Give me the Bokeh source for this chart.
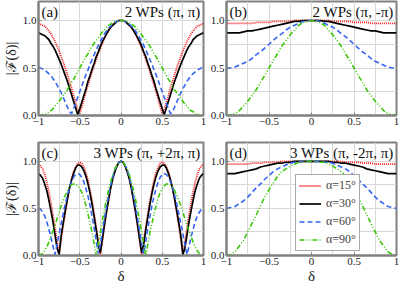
import numpy as np
from bokeh.plotting import figure
from bokeh.layouts import gridplot
from bokeh.models import Range1d, FixedTicker, Label, Legend, LegendItem
from bokeh.embed import file_html
from bokeh.resources import INLINE

# ---------------- data ----------------
DELTA_FINE = np.round(np.linspace(-1.0, 1.0, 81), 3)     # step 0.025
DELTA_COARSE = np.round(np.linspace(-1.0, 1.0, 41), 3)   # step 0.05

ALPHA_LABELS = ["α=15°", "α=30°", "α=60°", "α=90°"]
PANEL_TAGS = ["(a)", "(b)", "(c)", "(d)"]
PANEL_TITLES = ["2 WPs (π, π)", "2 WPs (π, -π)", "3 WPs (π, +2π, π)", "3 WPs (π, -2π, π)"]
X_TICKS = [-1, -0.5, 0, 0.5, 1]
X_TICK_LABELS = ["−1", "−0.5", "0", "0.5", "1"]
Y_TICKS = [0, 0.5, 1.0]
Y_TICK_LABELS = ["0.0", "0.5", "1.0"]
X_GRID = [-0.75, -0.5, -0.25, 0, 0.25, 0.5, 0.75]
Y_GRID = [0.25, 0.5, 0.75, 1.0]

# panel (a): 2 WPs (pi, pi)
A_15 = [0.97, 0.96, 0.95, 0.94, 0.92, 0.89, 0.86, 0.82, 0.78, 0.73, 0.68, 0.62, 0.56, 0.50, 0.43, 0.36, 0.29, 0.21, 0.14, 0.06,
        0.02, 0.09, 0.17, 0.25, 0.32, 0.39, 0.46, 0.53, 0.59, 0.66, 0.71, 0.76, 0.81, 0.86, 0.89, 0.93, 0.95, 0.97, 0.99, 1.00,
        1.00, 1.00, 0.99, 0.97, 0.95, 0.93, 0.89, 0.86, 0.81, 0.76, 0.71, 0.66, 0.59, 0.53, 0.46, 0.39, 0.32, 0.25, 0.17, 0.09,
        0.02, 0.06, 0.14, 0.21, 0.29, 0.36, 0.43, 0.50, 0.56, 0.62, 0.68, 0.73, 0.78, 0.82, 0.86, 0.89, 0.92, 0.94, 0.95, 0.96, 0.97]
A_30 = [0.87, 0.86, 0.85, 0.84, 0.82, 0.80, 0.76, 0.73, 0.69, 0.64, 0.59, 0.54, 0.48, 0.42, 0.36, 0.29, 0.22, 0.15, 0.08, 0.01,
        0.07, 0.14, 0.21, 0.28, 0.36, 0.42, 0.49, 0.55, 0.62, 0.67, 0.73, 0.78, 0.82, 0.86, 0.90, 0.93, 0.95, 0.97, 0.99, 1.00,
        1.00, 1.00, 0.99, 0.97, 0.95, 0.93, 0.90, 0.86, 0.82, 0.78, 0.73, 0.67, 0.62, 0.55, 0.49, 0.42, 0.36, 0.28, 0.21, 0.14,
        0.07, 0.01, 0.08, 0.15, 0.22, 0.29, 0.36, 0.42, 0.48, 0.54, 0.59, 0.64, 0.69, 0.73, 0.76, 0.80, 0.82, 0.84, 0.85, 0.86, 0.87]
A_60 = [0.50, 0.50, 0.49, 0.48, 0.46, 0.44, 0.42, 0.39, 0.36, 0.32, 0.28, 0.24, 0.19, 0.14, 0.09, 0.04, 0.02, 0.07, 0.13, 0.19,
        0.25, 0.31, 0.37, 0.43, 0.48, 0.54, 0.59, 0.64, 0.69, 0.74, 0.78, 0.82, 0.86, 0.89, 0.92, 0.94, 0.96, 0.98, 0.99, 1.00,
        1.00, 1.00, 0.99, 0.98, 0.96, 0.94, 0.92, 0.89, 0.86, 0.82, 0.78, 0.74, 0.69, 0.64, 0.59, 0.54, 0.48, 0.43, 0.37, 0.31,
        0.25, 0.19, 0.13, 0.07, 0.02, 0.04, 0.09, 0.14, 0.19, 0.24, 0.28, 0.32, 0.36, 0.39, 0.42, 0.44, 0.46, 0.48, 0.49, 0.50, 0.50]
A_90 = [0.00, 0.00, 0.01, 0.01, 0.02, 0.04, 0.05, 0.07, 0.10, 0.12, 0.15, 0.18, 0.21, 0.24, 0.27, 0.31, 0.35, 0.38, 0.42, 0.46,
        0.50, 0.54, 0.58, 0.62, 0.65, 0.69, 0.73, 0.76, 0.79, 0.82, 0.85, 0.88, 0.90, 0.93, 0.95, 0.96, 0.98, 0.99, 0.99, 1.00,
        1.00, 1.00, 0.99, 0.99, 0.98, 0.96, 0.95, 0.93, 0.90, 0.88, 0.85, 0.82, 0.79, 0.76, 0.73, 0.69, 0.65, 0.62, 0.58, 0.54,
        0.50, 0.46, 0.42, 0.38, 0.35, 0.31, 0.27, 0.24, 0.21, 0.18, 0.15, 0.12, 0.10, 0.07, 0.05, 0.04, 0.02, 0.01, 0.01, 0.00, 0.00]

# panel (b): 2 WPs (pi, -pi)
B_15 = [0.97, 0.97, 0.97, 0.97, 0.97, 0.97, 0.97, 0.98, 0.98, 0.98, 0.98, 0.99, 0.99, 0.99, 0.99, 0.99, 1.00, 1.00, 1.00, 1.00,
        1.00, 1.00, 1.00, 1.00, 1.00, 0.99, 0.99, 0.99, 0.99, 0.99, 0.98, 0.98, 0.98, 0.98, 0.97, 0.97, 0.97, 0.97, 0.97, 0.97, 0.97]
B_30 = [0.87, 0.87, 0.87, 0.87, 0.88, 0.89, 0.89, 0.90, 0.91, 0.92, 0.93, 0.94, 0.95, 0.96, 0.97, 0.98, 0.99, 0.99, 1.00, 1.00,
        1.00, 1.00, 1.00, 0.99, 0.99, 0.98, 0.97, 0.96, 0.95, 0.94, 0.93, 0.92, 0.91, 0.90, 0.89, 0.89, 0.88, 0.87, 0.87, 0.87, 0.87]
B_60 = [0.50, 0.50, 0.51, 0.53, 0.55, 0.57, 0.60, 0.64, 0.67, 0.71, 0.75, 0.79, 0.83, 0.86, 0.90, 0.93, 0.95, 0.97, 0.99, 1.00,
        1.00, 1.00, 0.99, 0.97, 0.95, 0.93, 0.90, 0.86, 0.83, 0.79, 0.75, 0.71, 0.67, 0.64, 0.60, 0.57, 0.55, 0.53, 0.51, 0.50, 0.50]
B_90 = [0.00, 0.01, 0.02, 0.05, 0.10, 0.15, 0.21, 0.27, 0.35, 0.42, 0.50, 0.58, 0.65, 0.73, 0.79, 0.85, 0.90, 0.95, 0.98, 0.99,
        1.00, 0.99, 0.98, 0.95, 0.90, 0.85, 0.79, 0.73, 0.65, 0.58, 0.50, 0.42, 0.35, 0.27, 0.21, 0.15, 0.10, 0.05, 0.02, 0.01, 0.00]

# panel (c): 3 WPs (pi, +2pi, pi)
C_15 = [0.97, 0.95, 0.92, 0.86, 0.78, 0.68, 0.56, 0.43, 0.29, 0.14, 0.02, 0.17, 0.32, 0.46, 0.59, 0.71, 0.81, 0.89, 0.94, 0.98,
        0.99, 0.98, 0.94, 0.88, 0.80, 0.69, 0.58, 0.44, 0.30, 0.15, 0.01, 0.16, 0.32, 0.46, 0.59, 0.71, 0.81, 0.89, 0.95, 0.99,
        1.00, 0.99, 0.95, 0.89, 0.81, 0.71, 0.59, 0.46, 0.32, 0.16, 0.01, 0.15, 0.30, 0.44, 0.58, 0.69, 0.80, 0.88, 0.94, 0.98,
        0.99, 0.98, 0.94, 0.89, 0.81, 0.71, 0.59, 0.46, 0.32, 0.17, 0.02, 0.14, 0.29, 0.43, 0.56, 0.68, 0.78, 0.86, 0.92, 0.95, 0.97]
C_30 = [0.87, 0.85, 0.82, 0.76, 0.69, 0.59, 0.48, 0.36, 0.22, 0.08, 0.01, 0.21, 0.35, 0.48, 0.60, 0.71, 0.80, 0.87, 0.93, 0.96,
        0.96, 0.94, 0.90, 0.84, 0.76, 0.66, 0.54, 0.41, 0.27, 0.12, 0.03, 0.18, 0.33, 0.47, 0.60, 0.72, 0.82, 0.89, 0.95, 0.99,
        1.00, 0.99, 0.95, 0.89, 0.82, 0.72, 0.60, 0.47, 0.33, 0.18, 0.03, 0.12, 0.27, 0.41, 0.54, 0.66, 0.76, 0.84, 0.90, 0.94,
        0.96, 0.96, 0.93, 0.87, 0.80, 0.71, 0.60, 0.48, 0.35, 0.21, 0.01, 0.08, 0.22, 0.36, 0.48, 0.59, 0.69, 0.76, 0.82, 0.85, 0.87]
C_60 = [0.50, 0.49, 0.46, 0.42, 0.36, 0.28, 0.20, 0.10, 0.01, 0.12, 0.23, 0.34, 0.45, 0.55, 0.64, 0.72, 0.78, 0.83, 0.86, 0.87,
        0.86, 0.83, 0.78, 0.71, 0.63, 0.53, 0.41, 0.29, 0.15, 0.02, 0.12, 0.26, 0.40, 0.52, 0.64, 0.75, 0.83, 0.91, 0.96, 0.99,
        1.00, 0.99, 0.96, 0.91, 0.83, 0.75, 0.64, 0.52, 0.40, 0.26, 0.12, 0.02, 0.15, 0.29, 0.41, 0.53, 0.63, 0.71, 0.78, 0.83,
        0.86, 0.87, 0.86, 0.83, 0.78, 0.72, 0.64, 0.55, 0.45, 0.34, 0.23, 0.12, 0.01, 0.10, 0.20, 0.28, 0.36, 0.42, 0.46, 0.49, 0.50]
C_90 = [0.00, 0.01, 0.02, 0.05, 0.09, 0.14, 0.20, 0.26, 0.32, 0.39, 0.46, 0.53, 0.59, 0.64, 0.69, 0.73, 0.75, 0.76, 0.76, 0.74,
        0.71, 0.67, 0.61, 0.53, 0.44, 0.34, 0.24, 0.12, 0.00, 0.12, 0.25, 0.37, 0.49, 0.60, 0.70, 0.78, 0.86, 0.92, 0.96, 0.99,
        1.00, 0.99, 0.96, 0.92, 0.86, 0.78, 0.70, 0.60, 0.49, 0.37, 0.25, 0.12, 0.00, 0.12, 0.24, 0.34, 0.44, 0.53, 0.61, 0.67,
        0.71, 0.74, 0.76, 0.76, 0.75, 0.73, 0.69, 0.64, 0.59, 0.53, 0.46, 0.39, 0.32, 0.26, 0.20, 0.14, 0.09, 0.05, 0.02, 0.01, 0.00]

# panel (d): 3 WPs (pi, -2pi, pi)
D_15 = [0.97, 0.97, 0.97, 0.97, 0.97, 0.97, 0.98, 0.98, 0.98, 0.99, 0.99, 0.99, 0.99, 1.00, 1.00, 1.00, 1.00, 1.00, 1.00, 1.00,
        1.00, 1.00, 1.00, 1.00, 1.00, 1.00, 1.00, 1.00, 0.99, 0.99, 0.99, 0.99, 0.98, 0.98, 0.98, 0.97, 0.97, 0.97, 0.97, 0.97, 0.97]
D_30 = [0.87, 0.87, 0.87, 0.88, 0.89, 0.90, 0.91, 0.92, 0.94, 0.95, 0.96, 0.97, 0.98, 0.98, 0.99, 0.99, 1.00, 1.00, 1.00, 1.00,
        1.00, 1.00, 1.00, 1.00, 1.00, 0.99, 0.99, 0.98, 0.98, 0.97, 0.96, 0.95, 0.94, 0.92, 0.91, 0.90, 0.89, 0.88, 0.87, 0.87, 0.87]
D_60 = [0.50, 0.51, 0.52, 0.55, 0.58, 0.62, 0.67, 0.72, 0.76, 0.81, 0.85, 0.89, 0.92, 0.94, 0.96, 0.98, 0.99, 0.99, 1.00, 1.00,
        1.00, 1.00, 1.00, 0.99, 0.99, 0.98, 0.96, 0.94, 0.92, 0.89, 0.85, 0.81, 0.76, 0.72, 0.67, 0.62, 0.58, 0.55, 0.52, 0.51, 0.50]
D_90 = [0.00, 0.01, 0.04, 0.10, 0.16, 0.25, 0.34, 0.43, 0.53, 0.62, 0.70, 0.77, 0.84, 0.89, 0.92, 0.95, 0.97, 0.99, 0.99, 1.00,
        1.00, 1.00, 0.99, 0.99, 0.97, 0.95, 0.92, 0.89, 0.84, 0.77, 0.70, 0.62, 0.53, 0.43, 0.34, 0.25, 0.16, 0.10, 0.04, 0.01, 0.00]

# ---------------- styles ----------------
FONT = "Liberation Serif"
COLORS = ["#f41c1c", "#000000", "#3566f2", "#3cc80a"]
DASHES = ["1 1", "solid", "5 3", "5 2 1 2 1 2"]
WIDTHS = [1.8, 1.7, 1.6, 1.6]
FRAME = "#808080"

PANELS = [
    (DELTA_FINE, [A_15, A_30, A_60, A_90]),
    (DELTA_COARSE, [B_15, B_30, B_60, B_90]),
    (DELTA_FINE, [C_15, C_30, C_60, C_90]),
    (DELTA_COARSE, [D_15, D_30, D_60, D_90]),
]


def make_panel(i):
    col = i % 2
    row = i // 2
    p = figure(width=206 if col == 0 else 194,
               height=141 if row == 0 else 145,
               x_range=Range1d(-1, 1), y_range=Range1d(0, 1.2),
               output_backend="svg", toolbar_location=None,
               min_border_left=33 if col == 0 else 20,
               min_border_right=3 if col == 0 else 4,
               min_border_top=1,
               min_border_bottom=26 if row == 0 else 30)
    p.background_fill_color = "white"
    p.border_fill_color = "white"
    p.outline_line_color = FRAME
    p.outline_line_width = 2

    p.xaxis.ticker = FixedTicker(ticks=X_TICKS)
    p.xaxis.major_label_overrides = {t: s for t, s in zip(X_TICKS, X_TICK_LABELS)}
    p.yaxis.ticker = FixedTicker(ticks=Y_TICKS)
    p.yaxis.major_label_overrides = {t: s for t, s in zip(Y_TICKS, Y_TICK_LABELS)}
    for ax in (p.xaxis, p.yaxis):
        ax.axis_line_color = FRAME
        ax.axis_line_width = 2
        ax.major_tick_in = 3
        ax.major_tick_out = 0
        ax.major_tick_line_color = FRAME
        ax.minor_tick_line_color = None
        ax.major_label_text_font = FONT
        ax.major_label_text_font_size = "11px"
        ax.major_label_text_color = "#222222"
        ax.major_label_standoff = 2
        ax.axis_label_text_font = FONT
        ax.axis_label_text_font_style = "normal"
        ax.axis_label_text_color = "#222222"
        ax.axis_label_standoff = 1

    p.xgrid.ticker = FixedTicker(ticks=X_GRID)
    p.ygrid.ticker = FixedTicker(ticks=Y_GRID)
    p.xgrid.grid_line_color = "#d8d8d8"
    p.ygrid.grid_line_color = "#d8d8d8"

    if col == 0:
        p.yaxis.axis_label = "|ℱ(δ)|"
        p.yaxis.axis_label_text_font_size = "14px"
    if row == 1:
        p.xaxis.axis_label = "δ"
        p.xaxis.axis_label_text_font_size = "15px"
        p.xaxis.axis_label_standoff = 0

    xs, series = PANELS[i]
    renderers = []
    for ys, c, d, w in zip(series, COLORS, DASHES, WIDTHS):
        r = p.line(xs, ys, line_color=c, line_dash=d, line_width=w)
        renderers.append(r)

    p.add_layout(Label(x=-0.965, y=1.175, text=PANEL_TAGS[i], text_align="left",
                       text_baseline="top", text_font=FONT,
                       text_font_size="15px", text_color="#111111"))
    p.add_layout(Label(x=0.965, y=1.175, text=PANEL_TITLES[i], text_align="right",
                       text_baseline="top", text_font=FONT,
                       text_font_size="15px", text_color="#111111"))

    if i == 3:
        items = [LegendItem(label=lab, renderers=[r]) for lab, r in zip(ALPHA_LABELS, renderers)]
        leg = Legend(items=items, location=(69, 4))
        leg.label_text_font = FONT
        leg.label_text_font_size = "12px"
        leg.glyph_width = 22
        leg.glyph_height = 13
        leg.label_height = 13
        leg.label_standoff = 5
        leg.spacing = 3
        leg.padding = 3
        leg.margin = 0
        leg.border_line_color = "#555555"
        leg.border_line_width = 1
        leg.background_fill_alpha = 1.0
        p.add_layout(leg)
    return p


panels = [make_panel(i) for i in range(4)]
grid = gridplot([[panels[0], panels[1]], [panels[2], panels[3]]], toolbar_location=None)

open("out.html", "w").write(file_html(grid, INLINE))
